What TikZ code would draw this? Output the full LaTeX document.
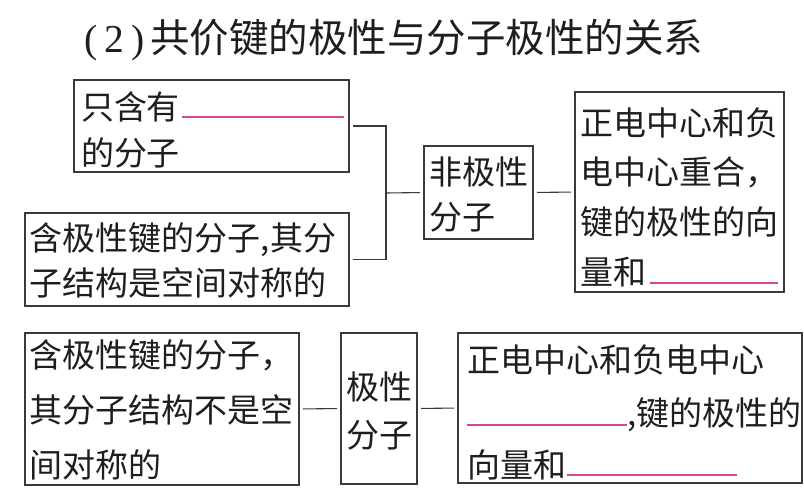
\documentclass[tikz,border=0pt]{standalone}
\usepackage{fontspec}
\newfontfamily\cjk{Noto Sans CJK SC}
\newfontfamily\titleserif{Liberation Serif}
\definecolor{inkc}{HTML}{1E1E1E}
\definecolor{linec}{HTML}{3A3A3A}
\definecolor{pinkc}{HTML}{D6449A}
\tikzset{
  box/.style={draw=linec, line width=1.1pt, rectangle, anchor=north west, inner sep=0pt, outer sep=0pt},
  txt/.style={anchor=west, inner sep=0pt, outer sep=0pt, text=inkc, font=\cjk\fontsize{33}{33}\selectfont},
  conn/.style={draw=linec, line width=1.1pt, shorten <=4pt, shorten >=4pt},
  ul/.style={draw=pinkc, line width=1.2pt}
}
\begin{document}
\begin{tikzpicture}[x=1pt,y=-1pt]
\useasboundingbox (0,0) rectangle (804,496);
% title
\node[anchor=west, inner sep=0pt, text=inkc] (title) at (84,40)
  {\fontsize{39.5}{39.5}\selectfont{\titleserif(\kern7pt2\kern7pt)}\kern6pt{\cjk 共价键的极性与分子极性的关系}};
% boxes
\node[box, minimum width=275pt, minimum height=92pt] (A) at (74,80) {};
\node[box, minimum width=109pt, minimum height=93pt] (B) at (424,146) {};
\node[box, minimum width=209pt, minimum height=200pt] (C) at (575,92) {};
\node[box, minimum width=324pt, minimum height=93pt] (D) at (25,213) {};
\node[box, minimum width=274pt, minimum height=152pt] (E) at (25,333) {};
\node[box, minimum width=76pt, minimum height=151pt] (F) at (341,333) {};
\node[box, minimum width=344pt, minimum height=150pt] (G) at (458,333) {};
% texts
\node[txt] (A1) at (81,107) {只含有};
\node[txt] (A2) at (81,153) {的分子};
\node[txt] (B1) at (429,172) {非极性};
\node[txt] (B2) at (429,217) {分子};
\node[txt] (C1) at (580,123) {正电中心和负};
\node[txt] (C2) at (580,172) {电中心重合，};
\node[txt] (C3) at (580,222) {键的极性的向};
\node[txt] (C4) at (580,272) {量和};
\node[txt] (D1) at (30,240) {含极性键的分子,其分};
\node[txt] (D2) at (30,283) {子结构是空间对称的};
\node[txt] (E1) at (30,355) {含极性键的分子，};
\node[txt] (E2) at (30,410) {其分子结构不是空};
\node[txt] (E3) at (30,465) {间对称的};
\node[txt] (F1) at (346,387) {极性};
\node[txt] (F2) at (346,435) {分子};
\node[txt] (G1) at (467,360) {正电中心和负电中心};
\node[txt] (G2) at (627,415) {,键的极性的};
\node[txt] (G3) at (467,465) {向量和};
% blanks
\draw[ul] (182,117) -- (344,117);
\draw[ul] (650,283) -- (778,283);
\draw[ul] (467,425) -- (627,425);
\draw[ul] (567,475) -- (737,475);
% connectors
\coordinate (j) at (386,193);
\draw[conn, shorten >=0pt] (A.east) -| (j);
\draw[conn, shorten >=0pt] (D.east) -| (j);
\draw[conn, shorten <=0pt] (j) -- (B.west);
\draw[conn] (B.east) -- (C.west);
\draw[conn] (E.east) -- (F.west);
\draw[conn] (F.east) -- (G.west);
\end{tikzpicture}
\end{document}
